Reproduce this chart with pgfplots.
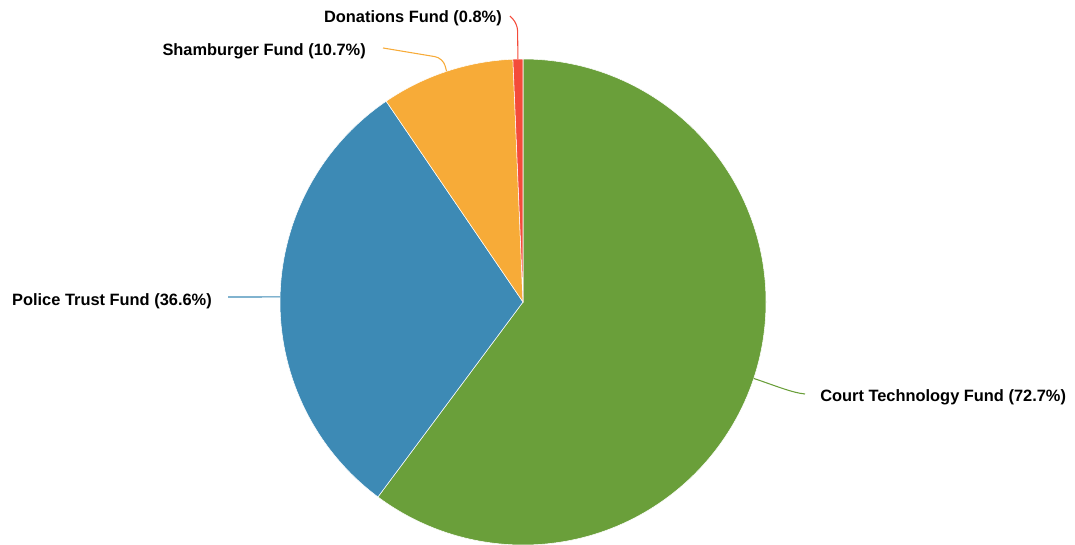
\documentclass[border=0pt]{standalone}
\usepackage{fontspec}
\setmainfont{Liberation Sans}
\usepackage{pgfplots}
\usepackage{pgfplotstable}
\pgfplotsset{compat=1.18}
\definecolor{cgreen}{HTML}{6A9F3A}
\definecolor{cblue}{HTML}{3D8AB5}
\definecolor{corange}{HTML}{F7AB38}
\definecolor{cred}{HTML}{F44B3A}
\pgfplotstableread{
value
72.7
36.6
10.7
0.8
}\piedata
\pgfplotstablegetelem{0}{value}\of\piedata\let\vA\pgfplotsretval
\pgfplotstablegetelem{1}{value}\of\piedata\let\vB\pgfplotsretval
\pgfplotstablegetelem{2}{value}\of\piedata\let\vC\pgfplotsretval
\pgfplotstablegetelem{3}{value}\of\piedata\let\vD\pgfplotsretval
\pgfmathsetmacro\total{\vA+\vB+\vC+\vD}
\pgfmathsetmacro\aA{90}
\pgfmathsetmacro\aB{\aA-360*(\vA/\total)}
\pgfmathsetmacro\aC{\aB-360*(\vB/\total)}
\pgfmathsetmacro\aD{\aC-360*(\vC/\total)}
\pgfmathsetmacro\aE{\aD-360*(\vD/\total)}
\pgfmathsetmacro\mA{(\aA+\aB)/2}
\pgfmathsetmacro\mB{(\aB+\aC)/2}
\pgfmathsetmacro\mC{(\aC+\aD)/2}
\pgfmathsetmacro\mD{(\aD+\aE)/2}
\def\R{182.25pt}
\begin{document}
\begin{tikzpicture}[lbl/.style={inner sep=0pt, font=\bfseries\fontsize{12.3}{14}\selectfont}]
\begin{axis}[
  x=0.75pt, y=0.75pt,
  xmin=0, xmax=1075, ymin=0, ymax=544,
  xtick=\empty, ytick=\empty,
  hide axis, clip=true,
]
\path (axis cs:0,0) -- (axis cs:1075,544);
\fill[cgreen, draw=white, line width=0.4pt] (axis cs:523,242) -- ++(\aA:\R) arc[start angle=\aA, end angle=\aB, radius=\R] -- cycle;
\fill[cblue, draw=white, line width=0.4pt] (axis cs:523,242) -- ++(\aB:\R) arc[start angle=\aB, end angle=\aC, radius=\R] -- cycle;
\fill[corange, draw=white, line width=0.4pt] (axis cs:523,242) -- ++(\aC:\R) arc[start angle=\aC, end angle=\aD, radius=\R] -- cycle;
\fill[cred, draw=white, line width=0.4pt] (axis cs:523,242) -- ++(\aD:\R) arc[start angle=\aD, end angle=\aE, radius=\R] -- cycle;
% leader lines
\draw[cgreen, line width=0.8pt] (axis cs:523,242) ++(\mA:\R) .. controls +(15pt,-5pt) and +(-10pt,1pt) .. (axis cs:805,150);
\draw[cblue, line width=0.8pt] (axis cs:523,242) ++(\mB:\R) -- (axis cs:228,247);
\draw[corange, line width=0.8pt, rounded corners=6pt] (axis cs:523,242) ++(\mC:\R) -- (axis cs:443,486) -- (axis cs:383,496);
\draw[cred, line width=0.8pt, rounded corners=5pt] (axis cs:523,242) ++(\mD:\R) -- (axis cs:517.5,520) -- (axis cs:510,528);
% labels
\node[lbl, anchor=west] at (axis cs:820,147) {Court Technology Fund (72.7\%)};
\node[lbl, anchor=east] at (axis cs:212,243) {Police Trust Fund (36.6\%)};
\node[lbl, anchor=east] at (axis cs:366,493) {Shamburger Fund (10.7\%)};
\node[lbl, anchor=east] at (axis cs:502,526) {Donations Fund (0.8\%)};
\end{axis}
\end{tikzpicture}
\end{document}
